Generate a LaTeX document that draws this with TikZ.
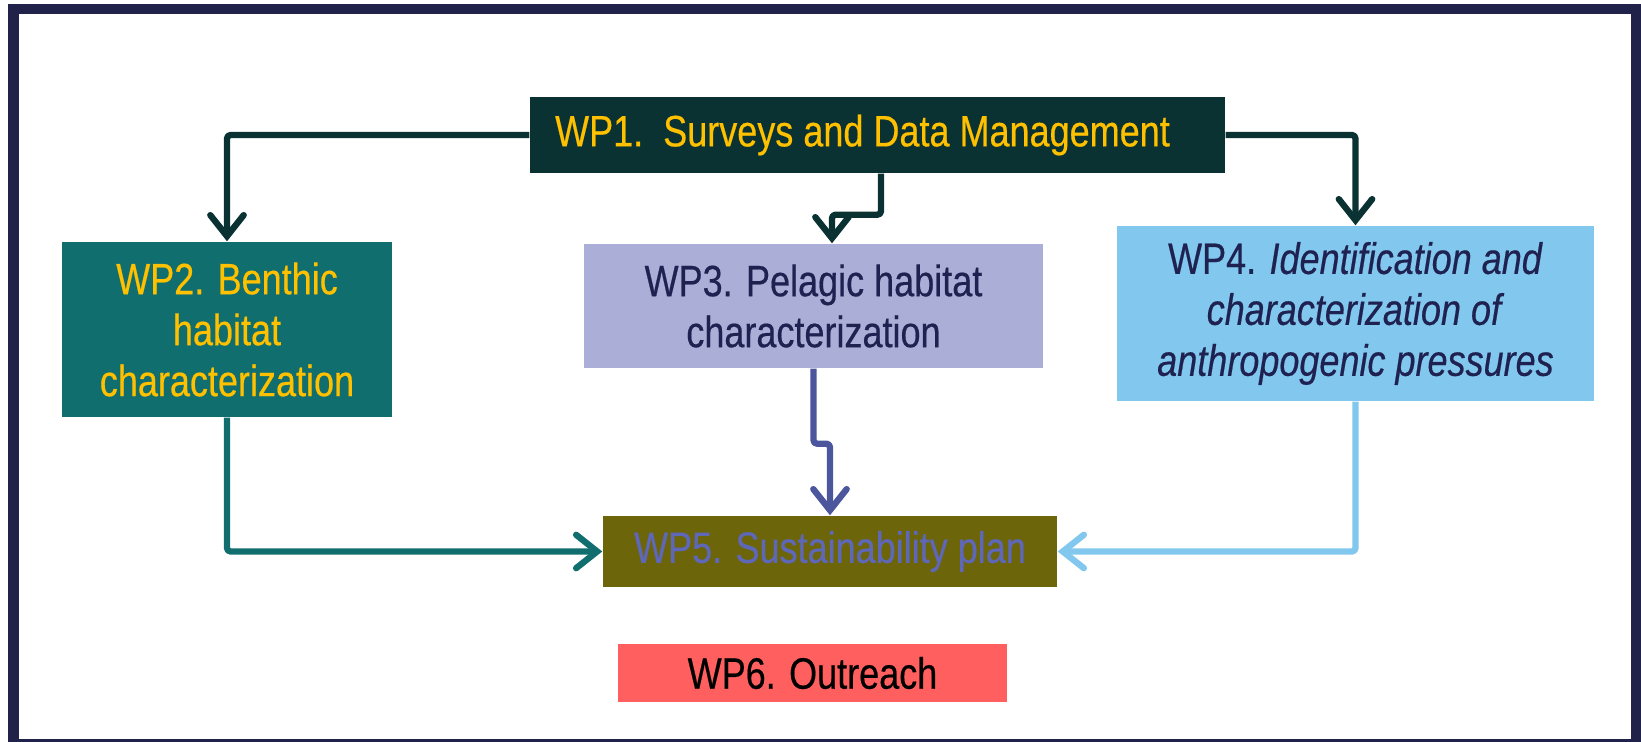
\documentclass[tikz,border=0pt]{standalone}
\usepackage{fontspec}
\setmainfont[FakeStretch=0.82,FakeBold=0.4]{Liberation Sans}
\usetikzlibrary{arrows.meta,calc}
\definecolor{framecol}{HTML}{21224A}
\definecolor{gold}{HTML}{FFC000}
\definecolor{wponefill}{HTML}{0B3232}
\definecolor{wptwofill}{HTML}{116E6E}
\definecolor{wpthreefill}{HTML}{ABAED6}
\definecolor{wpthreeline}{HTML}{4B569C}
\definecolor{navytext}{HTML}{1F2150}
\definecolor{wpfourfill}{HTML}{82C8EE}
\definecolor{wpfivefill}{HTML}{6D6509}
\definecolor{wpfivetext}{HTML}{5E67B8}
\definecolor{wpsixfill}{HTML}{FF5F5F}

\begin{document}
\begin{tikzpicture}[scale=1.0,
  wp/.style={rectangle,inner sep=0pt,align=center,font=\fontsize{12.5}{14.5}\selectfont},
  link/.style={line width=1.8pt,line join=round,rounded corners=1pt,
    -{Straight Barb[length=6pt,width=9.5pt,line cap=round]}}]
\useasboundingbox (0,0) rectangle (16.41,7.42);
\draw [line width=0.105cm,draw=framecol] (0.135,7.33) rectangle (16.36,-0.02);
% work packages
\node[wp,fill=wponefill,text=gold,minimum width=6.95cm,minimum height=0.76cm] (wp1) at (8.775,6.07) {WP1.\ \ Surveys and Data Management\hspace{0.3cm}};
\node[wp,fill=wptwofill,text=gold,minimum width=3.30cm,minimum height=1.75cm] (wp2) at (2.27,4.125) {WP2. Benthic\\habitat\\characterization};
\node[wp,fill=wpthreefill,text=navytext,minimum width=4.59cm,minimum height=1.24cm] (wp3) at (8.135,4.36) {WP3. Pelagic habitat\\characterization};
\node[wp,fill=wpfourfill,text=navytext,minimum width=4.77cm,minimum height=1.75cm] (wp4) at (13.555,4.285) {WP4. \textit{Identification and}\\\textit{characterization of}\\\textit{anthropogenic pressures}};
\node[wp,fill=wpfivefill,text=wpfivetext,minimum width=4.54cm,minimum height=0.71cm] (wp5) at (8.30,1.905) {WP5. Sustainability plan};
\node[wp,fill=wpsixfill,text=black,minimum width=3.89cm,minimum height=0.58cm] (wp6) at (8.125,0.69) {WP6. Outreach};
% links
\draw [link,draw=wponefill] (wp1.west) -| (wp2.north);
\draw [link,draw=wponefill] (wp1.east) -| (wp4.north);
\draw [link,draw=wponefill] ([xshift=0.035cm]wp1.south) -- ++(0,-0.41) -| ([xshift=0.185cm]wp3.north);
\draw [link,draw=wpthreeline] (wp3.south) -- ++(0,-0.75) -| (wp5.north);
\draw [link,draw=wptwofill] (wp2.south) |- (wp5.west);
\draw [link,draw=wpfourfill] (wp4.south) |- (wp5.east);
\end{tikzpicture}
\end{document}
